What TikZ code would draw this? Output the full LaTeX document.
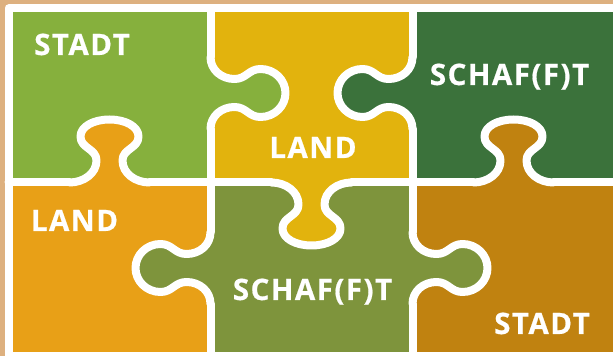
\documentclass[tikz,border=0pt]{standalone}
\usepackage{fontspec}
\setmainfont{Open Sans}
\usepackage{tikz}

\definecolor{backtan}{HTML}{DDB07F}
\definecolor{stadtgreen}{HTML}{86B03D}
\definecolor{landyellow}{HTML}{E2B30D}
\definecolor{schafgreen}{HTML}{3B723B}
\definecolor{landorange}{HTML}{E8A017}
\definecolor{schafolive}{HTML}{7E943C}
\definecolor{stadtbrown}{HTML}{C08210}

% tab outlines, base on the local x axis, knob towards +y
\newcommand{\vtabcurve}{(-40,0) .. controls (-26,0) and (-13,9) .. (-13,22)
  .. controls (-13,34) and (-29,34) .. (-29,46)
  .. controls (-29,56) and (-16,63) .. (0,63)
  .. controls (16,63) and (29,56) .. (29,46)
  .. controls (29,34) and (13,34) .. (13,22)
  .. controls (13,9) and (26,0) .. (40,0)}
\newcommand{\htabcurve}{(-36,0) .. controls (-23,0) and (-14,11) .. (-14,24)
  .. controls (-14,36) and (-24,38) .. (-24,50)
  .. controls (-24,64) and (-13,75) .. (0,75)
  .. controls (13,75) and (24,64) .. (24,50)
  .. controls (24,38) and (14,36) .. (14,24)
  .. controls (14,11) and (23,0) .. (36,0)}

\tikzset{
  seam/.style={white, line width=8pt, line cap=round, line join=round},
  tilelabel/.style={text=white, anchor=base, inner sep=0pt,
    font=\bfseries\fontsize{29.5}{29.5}\selectfont\addfontfeatures{LetterSpace=5,FakeBold=0.6}},
  pics/vtab/.style={code={
    \fill[#1] \vtabcurve -- (40,-3) -- (-40,-3) -- cycle;
    \draw[seam] \vtabcurve;
  }},
  pics/htab/.style={code={
    \fill[#1] \htabcurve -- (36,-3) -- (-36,-3) -- cycle;
    \draw[seam] \htabcurve;
  }}
}

\begin{document}
\begin{tikzpicture}[x=1pt,y=1pt]
  \useasboundingbox (0,0) rectangle (613,356);
  \fill[backtan] (0,0) rectangle (613,356);

  % tiles
  \fill[stadtgreen] (8.5,173.5) rectangle (210.5,347.5);
  \fill[landyellow] (210.5,173.5) rectangle (412.5,347.5);
  \fill[schafgreen] (412.5,173.5) rectangle (620,347.5);
  \fill[landorange] (8.5,-0.5) rectangle (210.5,173.5);
  \fill[schafolive] (210.5,-0.5) rectangle (412.5,173.5);
  \fill[stadtbrown] (412.5,-0.5) rectangle (620,173.5);

  % knobs
  \pic at (109.5,173.5) {vtab=landorange};
  \pic[rotate=180] at (311.5,173.5) {vtab=landyellow};
  \pic at (513.5,173.5) {vtab=stadtbrown};
  \pic[rotate=-90] at (210.5,263) {htab=stadtgreen};
  \pic[rotate=90] at (210.5,88) {htab=schafolive};
  \pic[rotate=90] at (412.5,263) {htab=schafgreen};
  \pic[rotate=-90] at (412.5,88) {htab=schafolive};

  % straight seams
  \draw[seam] (8.5,173.5) -- (69.5,173.5);
  \draw[seam] (149.5,173.5) -- (271.5,173.5);
  \draw[seam] (351.5,173.5) -- (473.5,173.5);
  \draw[seam] (553.5,173.5) -- (620,173.5);

  \draw[seam] (210.5,347.5) -- (210.5,299);
  \draw[seam] (210.5,227) -- (210.5,124);
  \draw[seam] (210.5,52) -- (210.5,-0.5);
  \draw[seam] (412.5,347.5) -- (412.5,299);
  \draw[seam] (412.5,227) -- (412.5,124);
  \draw[seam] (412.5,52) -- (412.5,-0.5);

  % frame
  \draw[seam] (8.5,-0.5) rectangle (620,347.5);

  % words
  \node[tilelabel] (stadttop) at (82,301) {STADT};
  \node[tilelabel] (schaftop) at (509.5,271) {SCHAF(F)T};
  \node[tilelabel] (landtop) at (313,198) {LAND};
  \node[tilelabel] (landbottom) at (74.5,125) {LAND};
  \node[tilelabel] (schafbottom) at (312.5,56) {SCHAF(F)T};
  \node[tilelabel] (stadtbottom) at (542,22) {STADT};
\end{tikzpicture}
\end{document}
